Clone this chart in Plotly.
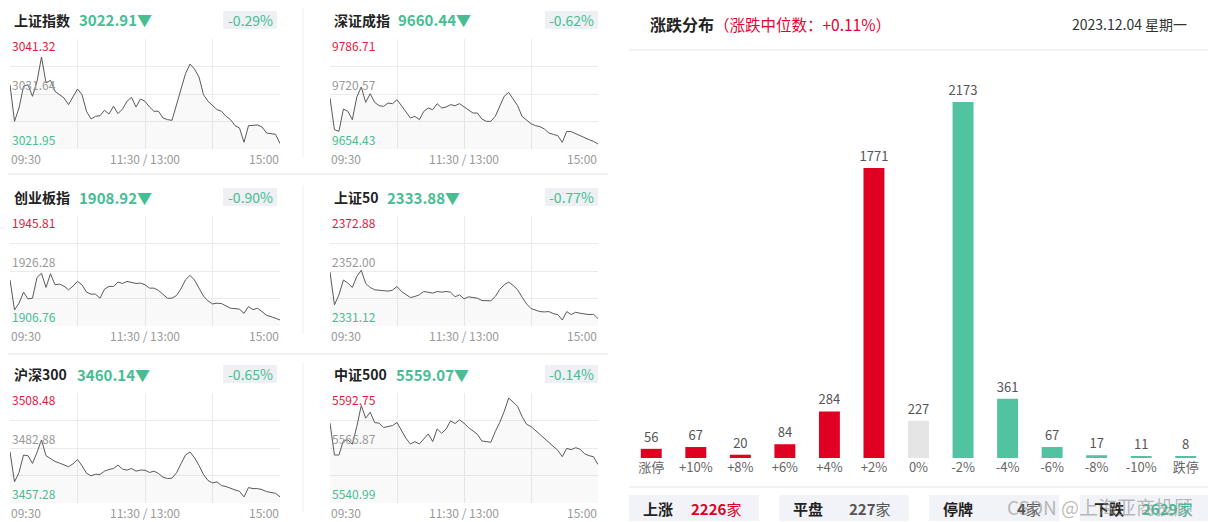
import plotly.graph_objects as go

W, H = 1208, 522
FONT = "Noto Sans CJK SC, Noto Sans, sans-serif"

# ---------------- data ----------------
minutes = list(range(0, 241, 4))  # minutes of trading since 09:30 (lunch break removed)
time_labels = ["09:30", "11:30 / 13:00", "15:00"]

index_names = ["上证指数", "深证成指", "创业板指", "上证50", "沪深300", "中证500"]
index_last = ["3022.91", "9660.44", "1908.92", "2333.88", "3460.14", "5559.07"]
index_pct = ["-0.29%", "-0.62%", "-0.90%", "-0.77%", "-0.65%", "-0.14%"]
axis_high = [3041.32, 9786.71, 1945.81, 2372.88, 3508.48, 5592.75]
axis_mid = [3031.64, 9720.57, 1926.28, 2352.00, 3482.88, 5566.87]
axis_low = [3021.95, 9654.43, 1906.76, 2331.12, 3457.28, 5540.99]

sh_index = [3033.28, 3026.83, 3029.17, 3032.99, 3033.28, 3031.23, 3033.87, 3038.16, 3033.58, 3034.05,
            3032.11, 3031.52, 3030.94, 3029.76, 3031.11, 3032.52, 3031.52, 3028.59, 3027.24, 3027.71,
            3027.82, 3028.76, 3028.12, 3029.47, 3028.18, 3029.00, 3030.35, 3031.05, 3029.35, 3030.76,
            3030.35, 3029.35, 3028.59, 3028.59, 3027.41, 3027.12, 3027.00, 3029.76, 3032.11, 3035.22,
            3036.92, 3036.04, 3034.63, 3031.52, 3030.35, 3029.59, 3028.88, 3028.59, 3027.71, 3027.12,
            3026.06, 3025.65, 3023.13, 3026.06, 3026.06, 3026.18, 3025.83, 3024.77, 3024.65, 3024.54,
            3022.91]
sz_index = [9715.76, 9677.68, 9675.68, 9702.53, 9699.73, 9689.71, 9716.96, 9728.99, 9710.55, 9720.97,
            9710.55, 9706.54, 9705.74, 9709.75, 9708.95, 9713.76, 9706.54, 9699.73, 9691.71, 9693.72,
            9689.71, 9699.73, 9703.74, 9701.73, 9708.95, 9703.74, 9704.94, 9707.74, 9706.54, 9708.95,
            9704.94, 9701.73, 9697.72, 9697.72, 9690.51, 9687.70, 9687.70, 9693.72, 9705.74, 9717.76,
            9722.57, 9713.76, 9706.54, 9693.72, 9688.91, 9684.90, 9682.49, 9681.29, 9678.49, 9673.68,
            9672.07, 9670.47, 9662.45, 9675.68, 9675.28, 9672.87, 9669.67, 9667.66, 9665.66, 9663.66,
            9660.44]
cyb_index = [1923.18, 1912.46, 1914.85, 1918.78, 1916.39, 1916.63, 1924.02, 1925.45, 1920.44, 1925.33,
             1921.40, 1921.64, 1920.92, 1919.61, 1920.92, 1922.59, 1921.40, 1918.78, 1918.06, 1918.06,
             1916.63, 1919.85, 1920.80, 1920.80, 1922.35, 1921.87, 1922.59, 1922.35, 1921.87, 1921.99,
             1921.40, 1920.21, 1920.21, 1919.37, 1918.06, 1916.63, 1916.63, 1917.59, 1919.97, 1923.18,
             1924.73, 1923.06, 1920.21, 1917.35, 1915.68, 1914.61, 1914.85, 1914.73, 1913.89, 1913.06,
             1912.94, 1912.70, 1911.27, 1913.66, 1912.58, 1913.06, 1911.87, 1910.56, 1910.08, 1909.37,
             1908.92]
sz50_index = [2351.62, 2339.14, 2342.96, 2348.56, 2347.42, 2345.76, 2349.96, 2352.25, 2347.29, 2345.76,
              2344.87, 2344.74, 2344.74, 2344.36, 2344.74, 2346.14, 2344.23, 2343.22, 2341.94, 2342.33,
              2342.96, 2344.23, 2343.85, 2343.60, 2344.23, 2343.98, 2344.23, 2343.98, 2342.20, 2342.96,
              2341.43, 2342.20, 2341.94, 2341.69, 2340.80, 2340.67, 2340.67, 2342.33, 2345.00, 2346.78,
              2347.80, 2346.53, 2344.87, 2342.07, 2339.52, 2337.74, 2337.23, 2336.60, 2336.47, 2336.60,
              2335.83, 2335.45, 2333.41, 2336.60, 2335.45, 2336.34, 2335.96, 2335.58, 2335.45, 2335.58,
              2333.88]
hs300_index = [3481.16, 3467.11, 3471.48, 3479.60, 3479.29, 3475.70, 3480.85, 3486.63, 3479.29, 3477.88,
               3476.64, 3475.86, 3474.92, 3474.14, 3475.54, 3477.57, 3474.61, 3471.17, 3469.92, 3470.70,
               3470.55, 3472.11, 3472.89, 3473.36, 3474.92, 3473.05, 3472.58, 3473.36, 3472.11, 3472.58,
               3472.58, 3471.48, 3472.11, 3471.02, 3469.30, 3468.67, 3468.83, 3471.33, 3475.54, 3479.60,
               3481.01, 3478.35, 3474.76, 3470.55, 3467.74, 3466.65, 3467.11, 3465.40, 3464.93, 3463.99,
               3463.37, 3462.74, 3460.09, 3464.46, 3463.99, 3463.99, 3463.52, 3462.59, 3462.12, 3461.81,
               3460.14]
zz500_index = [5578.55, 5563.56, 5563.56, 5570.34, 5570.66, 5568.61, 5576.97, 5586.91, 5580.91, 5583.75,
               5578.86, 5578.55, 5576.50, 5576.81, 5577.44, 5578.86, 5575.39, 5571.45, 5568.76, 5569.87,
               5568.76, 5571.13, 5573.50, 5569.87, 5575.86, 5573.81, 5575.86, 5579.65, 5578.39, 5580.13,
               5578.55, 5576.50, 5574.92, 5573.34, 5570.18, 5569.87, 5569.55, 5574.60, 5578.86, 5584.07,
               5590.38, 5588.49, 5586.44, 5581.70, 5578.07, 5576.97, 5575.08, 5573.50, 5571.29, 5569.55,
               5567.97, 5565.77, 5562.77, 5566.71, 5566.08, 5567.03, 5566.24, 5564.19, 5563.24, 5562.77,
               5559.07]
index_series = [sh_index, sz_index, cyb_index, sz50_index, hs300_index, zz500_index]

dist_labels = ["涨停", "+10%", "+8%", "+6%", "+4%", "+2%", "0%", "-2%", "-4%", "-6%", "-8%", "-10%", "跌停"]
dist_counts = [56, 67, 20, 84, 284, 1771, 227, 2173, 361, 67, 17, 11, 8]
dist_group = ["up"] * 6 + ["flat"] + ["down"] * 6

summary_labels = ["上涨", "平盘", "停牌", "下跌"]
summary_counts = [2226, 227, 4, 2629]

# ---------------- styles ----------------
RED = "#e4173e"
GREEN = "#46bd93"
BAR_COLORS = {"up": "#e00022", "flat": "#e5e5e5", "down": "#52c3a1"}
GRID = "#ebebeb"
GRAY_TXT = "#999999"


def px(x):
    return x / W


def py(y):
    return 1 - y / H


fig = go.Figure()
annotations = []
shapes = []


def ann(x, y, text, size, color, xanchor="left"):
    annotations.append(dict(xref="paper", yref="paper", x=px(x), y=py(y), xanchor=xanchor,
                            yanchor="middle", text=text, showarrow=False,
                            font=dict(size=size, color=color, family=FONT)))


col_x = [(10, 280), (330, 598)]
title_x = [12, 332]
value_x = [[77, 396], [77, 385], [75, 394]]
box_x = [(223, 277), (545, 598)]

layout_axes = {}
for i, series in enumerate(index_series):
    row, col = divmod(i, 2)
    off = 177 * row
    top, bot = 39 + off, 149 + off
    x0, x1 = col_x[col]
    n = i + 1
    xa = "x" if n == 1 else f"x{n}"
    ya = "y" if n == 1 else f"y{n}"
    fig.add_trace(go.Scatter(x=minutes, y=series, mode="lines", xaxis=xa, yaxis=ya,
                             line=dict(color="#5a5a5a", width=1), fill="tozeroy",
                             fillcolor="rgba(0,0,0,0.025)", hoverinfo="skip", showlegend=False))
    lo, hi = axis_low[i], axis_high[i]
    layout_axes[f"xaxis{'' if n == 1 else n}"] = dict(
        domain=[px(x0), px(x1)], range=[0, 240], tickvals=[60, 120, 180], showticklabels=False,
        showgrid=True, gridcolor=GRID, gridwidth=1, zeroline=False, showline=False, fixedrange=True,
        anchor=ya)
    layout_axes[f"yaxis{'' if n == 1 else n}"] = dict(
        domain=[py(bot), py(top)], range=[lo, hi],
        tickvals=[lo + k * (hi - lo) / 4 for k in range(5)], showticklabels=False,
        showgrid=True, gridcolor=GRID, gridwidth=1, zeroline=False, showline=False, fixedrange=True,
        anchor=xa)
    # axis value labels
    ann(x0, top + 6, f"{axis_high[i]:.2f}", 12, RED)
    ann(x0, (top + bot) / 2 - 10, f"{axis_mid[i]:.2f}", 12, GRAY_TXT)
    ann(x0, bot - 10, f"{axis_low[i]:.2f}", 12, GREEN)
    # time labels
    ann(x0 - 1, bot + 9, time_labels[0], 12, GRAY_TXT)
    ann((x0 + x1) / 2, bot + 9, time_labels[1], 12, GRAY_TXT, "center")
    ann(x1 + 1, bot + 9, time_labels[2], 12, GRAY_TXT, "right")
    # header
    ann(title_x[col], 20 + off, f"<b>{index_names[i]}</b>", 14, "#222222")
    ann(value_x[row][col], 20 + off, f"<b>{index_last[i]}▼</b>", 15, GREEN)
    bx0, bx1 = box_x[col]
    shapes.append(dict(type="rect", xref="paper", yref="paper", x0=px(bx0), x1=px(bx1),
                       y0=py(29 + off), y1=py(11 + off), fillcolor="#eef0f4", line=dict(width=0),
                       layer="below"))
    ann((bx0 + bx1) / 2, 20 + off, index_pct[i], 14, GREEN, "center")

# separators in the left block
for y in (174, 354):
    shapes.append(dict(type="line", xref="paper", yref="paper", x0=px(8), x1=px(608),
                       y0=py(y), y1=py(y), line=dict(color="#f1f1f1", width=2)))
for (y0, y1) in ((8, 157), (185, 334), (363, 512)):
    shapes.append(dict(type="line", xref="paper", yref="paper", x0=px(303), x1=px(303),
                       y0=py(y0), y1=py(y1), line=dict(color="#eeeeee", width=1)))

# ---------------- distribution bar chart ----------------
fig.add_trace(go.Bar(x=dist_labels, y=dist_counts, xaxis="x7", yaxis="y7",
                     marker=dict(color=[BAR_COLORS[g] for g in dist_group], line=dict(width=0)),
                     text=[str(v) for v in dist_counts], textposition="outside",
                     constraintext="none",
                     textfont=dict(size=13, color="#555555", family=FONT), cliponaxis=False,
                     hoverinfo="skip", showlegend=False))
layout_axes["xaxis7"] = dict(domain=[px(629), px(1208)], range=[-0.5, 12.5], type="category",
                             showgrid=False, zeroline=False, showline=False, ticks="",
                             tickfont=dict(size=13, color="#666666", family=FONT), anchor="y7",
                             fixedrange=True)
layout_axes["yaxis7"] = dict(domain=[py(458), py(60)], range=[0, 2430], showgrid=False,
                             zeroline=False, showline=False, showticklabels=False, anchor="x7",
                             fixedrange=True)

ann(648, 24, "<b>涨跌分布</b>", 16, "#222222")
ann(712, 24, "（涨跌中位数：+0.11%）", 15.5, "#e60033")
ann(1189, 24, "2023.12.04 星期一", 14, "#333333", "right")
shapes.append(dict(type="line", xref="paper", yref="paper", x0=px(629), x1=px(1208),
                   y0=py(50), y1=py(50), line=dict(color="#eeeeee", width=1.5)))
shapes.append(dict(type="line", xref="paper", yref="paper", x0=px(629), x1=px(1208),
                   y0=py(487), y1=py(487), line=dict(color="#eeeeee", width=1.5)))

box_starts = [629, 779, 929, 1080]
num_colors = ["#e00022", "#555555", "#555555", GREEN]
for k, bx in enumerate(box_starts):
    shapes.append(dict(type="rect", xref="paper", yref="paper", x0=px(bx), x1=px(min(bx + 130, 1208)),
                       y0=py(521), y1=py(495), fillcolor="#f2f3f8", line=dict(width=0), layer="below"))
    ann(bx + 29, 508, f"<b>{summary_labels[k]}</b>", 15, "#222222", "center")
    ann(bx + 114, 508, f"<b>{summary_counts[k]}</b>家", 15, num_colors[k], "right")

# watermark
ann(1100, 506, "CSDN @上海亚商投顾", 19, "rgba(140,140,140,0.6)", "center")

fig.update_layout(width=W, height=H, margin=dict(l=0, r=0, t=0, b=0),
                  paper_bgcolor="white", plot_bgcolor="rgba(0,0,0,0)",
                  font=dict(family=FONT), bargap=0.53, showlegend=False,
                  annotations=annotations, shapes=shapes, **layout_axes)

fig.write_html("out.html", config={"displayModeBar": False},
               post_script="document.body.style.margin='0px';")
